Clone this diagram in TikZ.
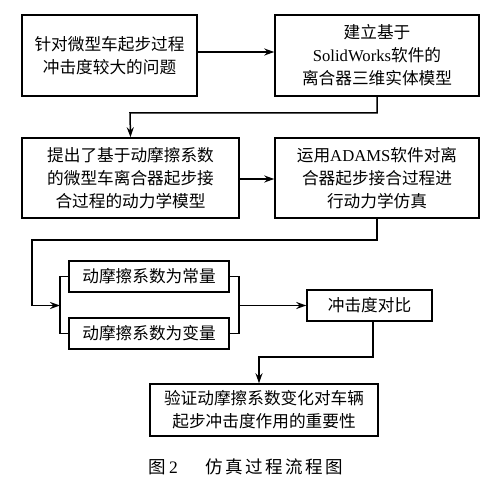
\documentclass[tikz,border=0pt]{standalone}
\usepackage{fontspec}
\setmainfont{Liberation Serif}
\newfontfamily\zh{Noto Sans CJK SC}
\usetikzlibrary{arrows.meta, calc, positioning}

\begin{document}
\begin{tikzpicture}[x=0.6pt, y=-0.6pt, >={Stealth[length=6pt,width=4.2pt]}]
	\tikzstyle{format} = [draw, line width=0.9pt, rectangle, inner sep=0pt, align=center,
		font=\fontsize{10pt}{13.8pt}\selectfont\zh]
	\tikzstyle{link} = [line width=0.9pt]

	\useasboundingbox (0,0) rectangle (482,477);

	% upper part
	\node[format, minimum width=105pt, minimum height=48.6pt] (wenti) at (109.5,55.5)
		{针对微型车起步过程\\冲击度较大的问题};
	\node[format, minimum width=122.4pt, minimum height=48.6pt] (moxing) at (377,55.5)
		{建立基于\\{\rmfamily SolidWorks}软件的\\离合器三维实体模型};
	\node[format, minimum width=130.2pt, minimum height=48pt] (dongli) at (130.5,178)
		{提出了基于动摩擦系数\\的微型车离合器起步接\\合过程的动力学模型};
	\node[format, minimum width=122.4pt, minimum height=48pt] (fangzhen) at (377,178)
		{运用{\rmfamily ADAMS}软件对离\\合器起步接合过程进\\行动力学仿真};

	% lower part
	\node[format, minimum width=96pt, minimum height=18.6pt] (changliang) at (149,276.5)
		{动摩擦系数为常量};
	\node[format, minimum width=96pt, minimum height=18.6pt] (bianliang) at (149,333.5)
		{动摩擦系数为变量};
	\node[format, minimum width=75pt, minimum height=18.6pt] (duibi) at (369.5,305.5)
		{冲击度对比};
	\node[format, minimum width=136.8pt, minimum height=31.2pt] (yanzheng) at (264,410)
		{验证动摩擦系数变化对车辆\\起步冲击度作用的重要性};

	\node[font=\fontsize{10.5pt}{12pt}\selectfont] (timing) at (246,467)
		{{\zh 图}\,2\hspace{1.6em}{\zh\addfontfeatures{LetterSpace=14}仿真过程流程图}};

	\coordinate (z1) at (130,113);
	\coordinate (z2) at (32,240);
	\coordinate (fenL) at (60,305.5);
	\coordinate (fenR) at (239,305.5);
	\coordinate (z3) at (259,357);

	\draw[link, ->] (wenti.east |- 0,52) -- (moxing.west |- 0,52);
	\draw[link, ->] (moxing.south) |- (z1) -- (dongli.north);
	\draw[link, ->] (dongli.east |- 0,179) -- (fangzhen.west |- 0,179);
	\draw[link, ->] (fangzhen.south) |- (z2) |- (fenL);
	\draw[link] (changliang.west) -| (fenL) |- (bianliang.west);
	\draw[link] (changliang.east) -| (fenR) |- (bianliang.east);
	\draw[link, ->] (fenR) -- (duibi.west);
	\draw[link, ->] (duibi.south -| 373,0) |- (z3) -- (z3 |- yanzheng.north);
\end{tikzpicture}
\end{document}
